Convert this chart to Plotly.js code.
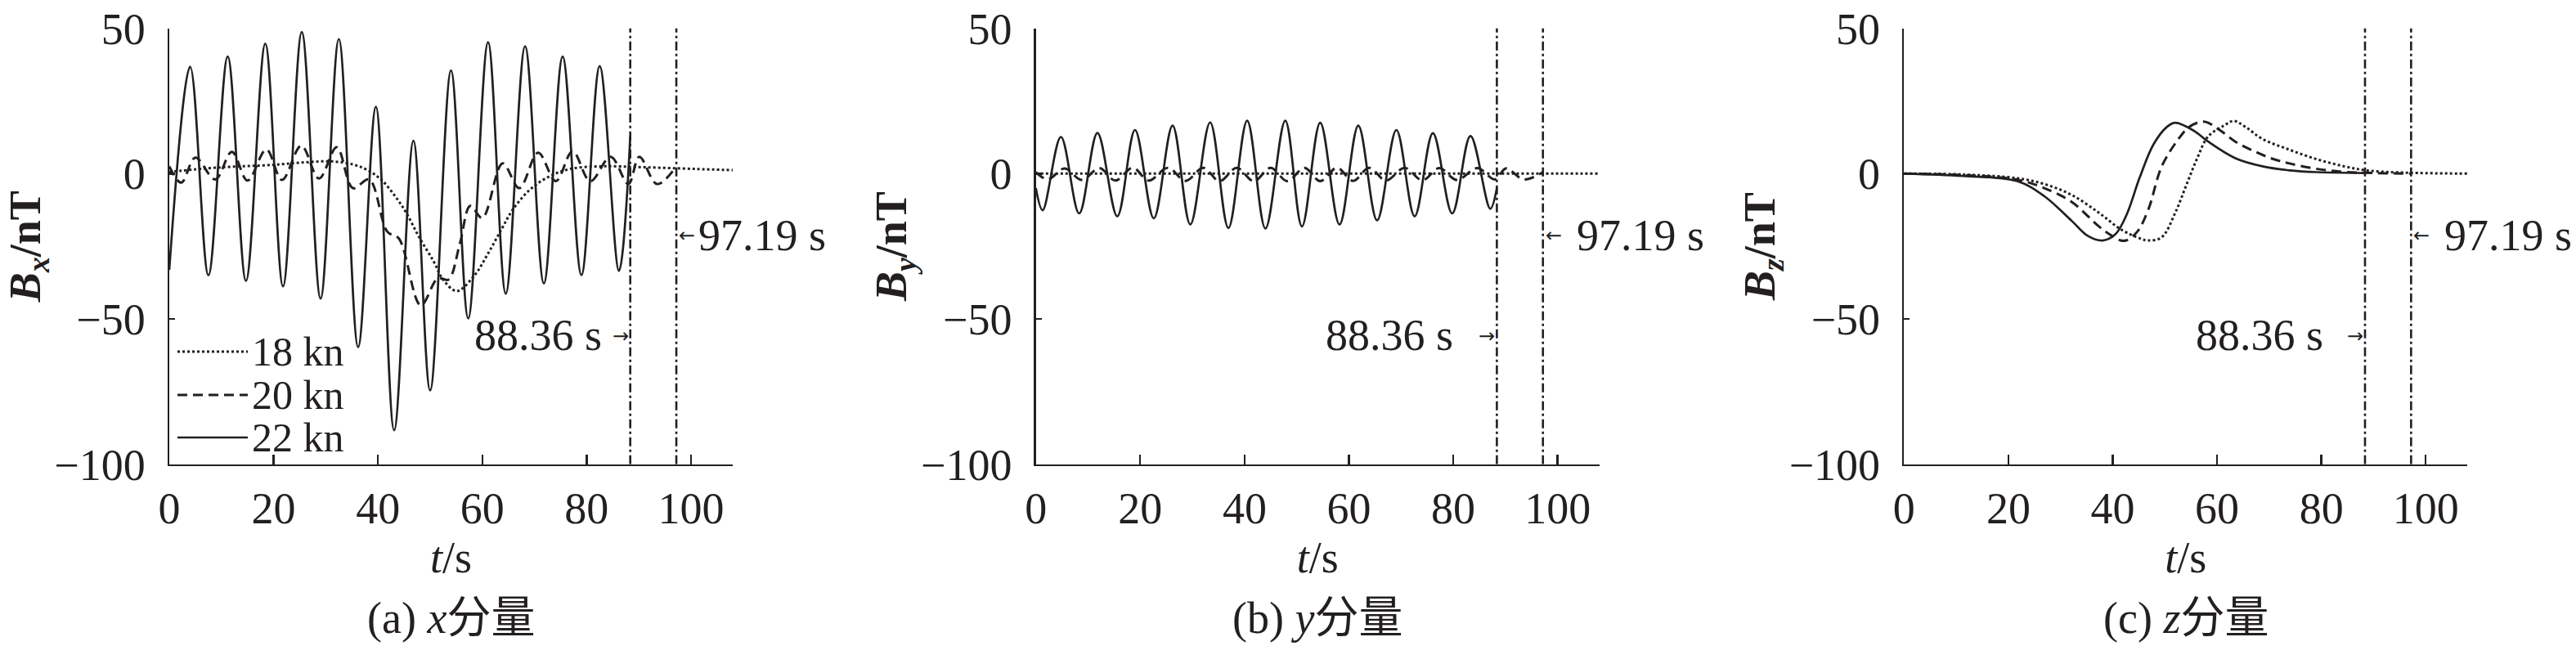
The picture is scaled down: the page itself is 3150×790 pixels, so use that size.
<!DOCTYPE html>
<html>
<head>
<meta charset="utf-8">
<script src="https://cdn.plot.ly/plotly-3.0.1.min.js"></script>
<style>html,body{margin:0;padding:0;background:#fff;}#chart{width:3150px;height:790px;}</style>
</head>
<body>
<div id="chart"></div>
<script>
// ---------------- data ----------------
const speeds = ['18 kn', '20 kn', '22 kn'];
const markerTimes = [88.36, 97.19];
const markerLabels = ['88.36 s', '97.19 s'];
const xTicks = [0, 20, 40, 60, 80, 100];
const yTicks = [-100, -50, 0, 50];
const xRange = [0, 108];
const yRange = [-100, 50];
const panelCaptions = ['(a) <i>x</i>分量', '(b) <i>y</i>分量', '(c) <i>z</i>分量'];
const yTitles = ['<b><i>B</i><sub><i>x</i></sub>/nT</b>', '<b><i>B</i><sub><i>y</i></sub>/nT</b>', '<b><i>B</i><sub><i>z</i></sub>/nT</b>'];
const xTitle = '<i>t</i>/s';

// (a) x component
const tX18 = [0, 9.4, 19.8, 26.1, 31.3, 35.5, 38.1, 40.7, 43.3, 45.4, 47.9, 50.7, 52.5, 55.1, 58.5, 61.1, 63.7, 65.8, 68.9, 72.6, 76.8, 83.0, 90.9, 100.8, 108];
const bX18 = [0.6, 2.1, 3.0, 3.9, 4.2, 3.0, 1.1, -2.2, -7.8, -13.4, -21.9, -30.3, -36.5, -40.4, -35.0, -27.5, -19.1, -12.5, -5.9, -1.2, 1.6, 2.5, 2.2, 1.6, 1.2];
const tX20 = [0, 2.3, 5.0, 8.8, 12.0, 15.0, 18.6, 21.6, 25.3, 28.7, 32.1, 35.2, 38.3, 41.8, 44.0, 48.2, 51.5, 53.5, 55.7, 57.7, 60.0, 63.9, 67.1, 70.7, 74.1, 77.3, 80.7, 84.6, 88.0, 90.1, 93.5, 97.19];
const bX20 = [2.5, -3.1, 5.5, -2.0, 7.5, -2.4, 8.3, -2.2, 9.6, -1.7, 9.1, -5.0, -2.0, -20.0, -22.3, -45.3, -36.0, -36.5, -24.1, -11.1, -15.3, 3.5, -5.0, 7.2, -2.6, 7.7, -2.6, 5.8, -3.6, 5.8, -3.6, 2.5];
const tX22 = [0, 4.0, 7.5, 11.2, 14.7, 18.4, 21.8, 25.4, 29.0, 32.5, 36.2, 39.6, 43.1, 46.8, 50.0, 54.0, 57.3, 61.1, 64.5, 68.2, 71.8, 75.4, 79.0, 82.5, 86.2, 88.36];
const bX22 = [-33.1, 36.8, -35.0, 40.3, -36.9, 44.7, -38.8, 48.7, -43.0, 46.3, -59.7, 23.0, -88.3, 11.3, -74.6, 35.5, -49.8, 45.2, -41.3, 43.8, -37.8, 40.3, -34.9, 37.0, -33.5, 12.8];

// (b) y component
const tY18 = [0, 20, 40, 60, 80, 108];
const bY18 = [0, 0, 0, 0, 0, 0];
const tY20 = [0, 2.3, 5.5, 8.8, 12.2, 15.2, 18.6, 21.6, 25.3, 28.7, 32.1, 35.2, 38.5, 41.8, 45.0, 48.2, 51.5, 54.5, 57.7, 60.8, 63.9, 67.1, 70.7, 74.1, 77.3, 80.7, 84.6, 88.0, 90.1, 93.5, 97.19];
const bY20 = [0.5, -2.0, 1.8, -2.2, 1.9, -2.4, 2.0, -2.4, 2.0, -2.5, 2.0, -2.6, 2.0, -2.6, 2.0, -2.6, 2.0, -2.6, 2.0, -2.5, 2.0, -2.4, 2.0, -2.3, 1.9, -2.2, 1.9, -2.0, 1.8, -2.0, 0.5];
const tY22 = [0, 1.3, 4.8, 8.3, 11.8, 15.6, 19.0, 22.6, 26.2, 29.6, 33.4, 36.9, 40.5, 44.0, 47.8, 51.0, 54.5, 58.2, 61.8, 65.4, 69.1, 72.6, 76.1, 79.8, 83.3, 87.1, 88.36];
const bY22 = [-5.0, -12.6, 12.6, -13.7, 14.0, -14.7, 15.0, -15.4, 16.5, -17.5, 17.6, -18.7, 18.2, -18.9, 18.2, -18.2, 17.5, -17.5, 16.5, -16.1, 15.0, -14.7, 13.9, -13.7, 12.9, -12.1, -5.0];

// (c) z component
const tZ18 = [0, 11.2, 21.7, 26.9, 32.1, 37.3, 41.5, 45.2, 46.8, 49.4, 52.0, 54.1, 56.2, 58.3, 61.4, 63.2, 65.5, 68.7, 73.9, 79.2, 84.4, 88.6, 94.8, 108];
const bZ18 = [0, -0.3, -1.6, -3.6, -7.3, -13.4, -19.1, -22.3, -23.0, -21.9, -13.4, -4.0, 5.3, 12.8, 16.6, 18.1, 16.0, 11.9, 8.2, 4.9, 2.5, 1.1, 0.4, 0];
const tZ20 = [0, 11.2, 21.7, 26.9, 32.1, 37.3, 39.4, 41.5, 42.6, 44.7, 46.8, 49.4, 52.6, 54.7, 57.5, 60.5, 63.5, 67.0, 70.3, 73.9, 79.2, 84.4, 90.0, 97.19];
const bZ20 = [0, -0.5, -2.1, -5.0, -9.7, -18.1, -20.9, -23.0, -23.0, -20.0, -12.5, 2.5, 11.9, 16.1, 17.9, 15.0, 11.0, 7.8, 5.3, 3.5, 1.6, 0.6, 0.2, 0];
const tZ22 = [0, 11.2, 21.7, 26.9, 32.1, 35.2, 38.1, 40.5, 42.6, 45.2, 47.8, 50.4, 52.0, 55.6, 58.3, 63.5, 68.7, 73.9, 79.2, 88.36];
const bZ22 = [0, -0.8, -2.6, -7.8, -16.2, -21.4, -23.0, -20.9, -14.4, -1.2, 10.0, 16.1, 17.5, 14.7, 11.0, 5.3, 2.5, 1.1, 0.5, 0.2];

// ---------------- styling ----------------
const INK = '#231f20';
const SERIF = 'Liberation Serif, Times New Roman, Noto Sans CJK SC, serif';
const ARROWFONT = 'DejaVu Sans, sans-serif';
const W = 3150, H = 790;
const ML = 120; // left margin (px) so the first y title can sit left of its axis
const PW = W - ML;
const lineStyles = [
  {dash: 'dot', width: 3},
  {dash: '12px,7px', width: 3},
  {dash: 'solid', width: 2.7}
];
// panel geometry in page pixels
const panelLeft = [207, 1266.7, 2328.3];
const panelWidth = 689;
const plotTop = 34.6, plotBottom = 567.7;
const toPX = px => (px - ML) / PW; // page x pixel -> paper fraction

const panels = [
  {t: [tX18, tX20, tX22], b: [bX18, bX20, bX22]},
  {t: [tY18, tY20, tY22], b: [bY18, bY20, bY22]},
  {t: [tZ18, tZ20, tZ22], b: [bZ18, bZ20, bZ22]}
];

const traces = [];
panels.forEach((p, i) => {
  const sfx = i === 0 ? '' : String(i + 1);
  for (let k = 0; k < 3; k++) {
    traces.push({
      type: 'scatter', mode: 'lines', name: speeds[k],
      x: p.t[k], y: p.b[k],
      xaxis: 'x' + sfx, yaxis: 'y' + sfx,
      line: {color: INK, width: lineStyles[k].width, dash: lineStyles[k].dash, shape: 'spline', smoothing: 1},
      showlegend: false, hoverinfo: 'skip'
    });
  }
});

const layout = {
  width: W, height: H, autosize: false,
  margin: {l: ML, r: 0, t: 0, b: 0, pad: 0},
  paper_bgcolor: '#ffffff', plot_bgcolor: '#ffffff',
  showlegend: false,
  font: {family: SERIF, size: 54, color: INK},
  shapes: [], annotations: []
};

const yDom = [1 - plotBottom / H, 1 - plotTop / H];
panels.forEach((p, i) => {
  const sfx = i === 0 ? '' : String(i + 1);
  const xDom = [toPX(panelLeft[i]), toPX(panelLeft[i] + panelWidth)];
  layout['xaxis' + sfx] = {
    domain: xDom, anchor: 'y' + sfx, range: xRange, fixedrange: true,
    tickmode: 'array', tickvals: xTicks, ticktext: xTicks.map(String),
    ticks: 'inside', ticklen: 12, tickwidth: 2.4, tickcolor: INK,
    showline: true, linewidth: 2.4, linecolor: INK,
    showgrid: false, zeroline: false,
    tickfont: {family: SERIF, size: 54, color: INK},
    ticklabelstandoff: 5,
    title: {text: xTitle, font: {family: SERIF, size: 54, color: INK}, standoff: 2}
  };
  layout['yaxis' + sfx] = {
    domain: yDom, anchor: 'x' + sfx, range: yRange, fixedrange: true,
    tickmode: 'array', tickvals: yTicks, ticktext: yTicks.map(v => v < 0 ? '\u2212' + Math.abs(v) : String(v)),
    ticks: 'inside', ticklen: 7, tickwidth: 2.4, tickcolor: INK,
    showline: true, linewidth: 2.4, linecolor: INK,
    showgrid: false, zeroline: false,
    tickfont: {family: SERIF, size: 54, color: INK},
    ticklabelstandoff: 16,
    title: {text: yTitles[i], font: {family: SERIF, size: 54, color: INK}, standoff: 0}
  };

  // vertical dash-dot marker lines
  markerTimes.forEach(m => {
    layout.shapes.push({
      type: 'line', xref: 'x' + sfx, yref: 'y' + sfx,
      x0: m, x1: m, y0: yRange[0], y1: yRange[1],
      line: {color: INK, width: 2.6, dash: '11px,4px,3px,4px'}, layer: 'above'
    });
  });

  // marker annotations
  const yLow = -55.6, yHigh = -21.3;
  const textGapLeft = i === 0 ? 33 : (i === 1 ? 51 : 49);
  const textGapRight = i === 0 ? 25 : 39;
  layout.annotations.push(
    {xref: 'x' + sfx, yref: 'y' + sfx, x: markerTimes[0], y: yLow, xanchor: 'right', yanchor: 'middle',
     xshift: 0, yshift: -1, text: '\u2192', showarrow: false, font: {family: ARROWFONT, size: 24, color: INK}},
    {xref: 'x' + sfx, yref: 'y' + sfx, x: markerTimes[0], y: yLow, xanchor: 'right', yanchor: 'middle',
     xshift: -textGapLeft, text: markerLabels[0], showarrow: false, font: {family: SERIF, size: 54, color: INK}},
    {xref: 'x' + sfx, yref: 'y' + sfx, x: markerTimes[1], y: yHigh, xanchor: 'left', yanchor: 'middle',
     xshift: 1, yshift: 0, text: '\u2190', showarrow: false, font: {family: ARROWFONT, size: 24, color: INK}},
    {xref: 'x' + sfx, yref: 'y' + sfx, x: markerTimes[1], y: yHigh, xanchor: 'left', yanchor: 'middle',
     xshift: textGapRight, text: markerLabels[1], showarrow: false, font: {family: SERIF, size: 54, color: INK}}
  );

  // panel caption
  layout.annotations.push({
    xref: 'paper', yref: 'paper', x: (xDom[0] + xDom[1]) / 2, y: 1 - 756 / H,
    xanchor: 'center', yanchor: 'middle', text: panelCaptions[i], showarrow: false,
    font: {family: SERIF, size: 54, color: INK}
  });
});

// legend drawn inside panel (a), lower left
const legendRows = [430, 483, 535];
speeds.forEach((s, k) => {
  const yp = 1 - legendRows[k] / H;
  layout.shapes.push({
    type: 'line', xref: 'paper', yref: 'paper',
    x0: toPX(217), x1: toPX(303), y0: yp, y1: yp,
    line: {color: INK, width: lineStyles[k].width, dash: lineStyles[k].dash}
  });
  layout.annotations.push({
    xref: 'paper', yref: 'paper', x: toPX(306), y: yp, xanchor: 'left', yanchor: 'middle',
    text: s, showarrow: false, font: {family: SERIF, size: 50, color: INK}
  });
});

Plotly.newPlot('chart', traces, layout, {displayModeBar: false, staticPlot: true});
</script>
</body>
</html>
